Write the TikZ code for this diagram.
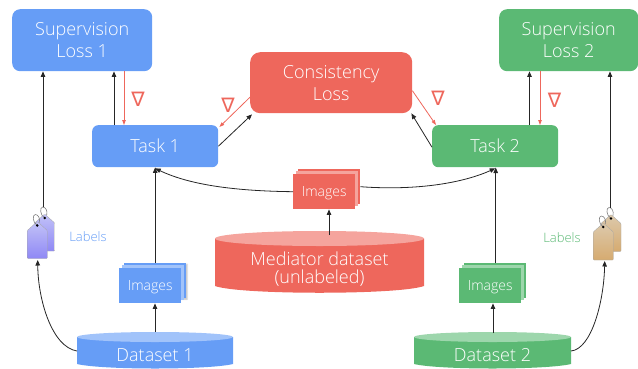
\documentclass[tikz,border=0pt]{standalone}
\usepackage{fontspec}
\setmainfont{Open Sans}
\newfontfamily\symfont{DejaVu Sans}
\newfontfamily\lightf{Open Sans Light}
\usetikzlibrary{arrows.meta,calc,shadows.blur}
\definecolor{gblue}{HTML}{669DF6}
\definecolor{gbluel}{HTML}{A1C3FA}
\definecolor{gred}{HTML}{EE675C}
\definecolor{gredl}{HTML}{F5A49D}
\definecolor{ggreen}{HTML}{5BB974}
\definecolor{ggreenl}{HTML}{9DD6AC}
\definecolor{taga}{HTML}{C2C2F7}
\definecolor{tagb}{HTML}{8F88F5}
\definecolor{tagc}{HTML}{DCC9AC}
\definecolor{tagd}{HTML}{D6AB70}
\tikzset{
  x=1pt,y=-1pt,
  box/.style={rounded corners=#1,text=white,align=center,font=\fontsize{18}{22}\selectfont\lightf,inner sep=0pt,anchor=north west},
  box/.default=8pt,
  imgfront/.style={text=white,inner sep=0pt,anchor=north west,minimum width=62pt,minimum height=35pt,text depth=-1pt,font=\fontsize{14}{16}\selectfont\lightf},
  imgback/.style={inner sep=0pt,anchor=north west,minimum width=62pt,minimum height=35pt},
  cyl/.style={text=white,inner sep=0pt,align=center,anchor=center},
  arr/.style={-{Triangle[width=4.5pt,length=5.5pt]},line width=0.8pt,black!85},
  grad/.style={-{Triangle[width=3.5pt,length=5pt]},line width=0.8pt,gred},
  nabla/.style={text=gred,inner sep=0pt,font=\symfont\fontsize{20}{20}\selectfont},
  lab/.style={inner sep=0pt,font=\fontsize{13}{15}\selectfont\lightf},
}
% tag: #1 hole position, #2 top colour, #3 bottom colour
\newcommand{\tagshape}[3]{%
  \begin{scope}[shift={#1}]
    \path[top color=#2,bottom color=#3,draw=black!35,line width=0.3pt,rounded corners=0.8pt]
      (0,-4) -- (10,5) -- (10,33) -- (-10,33) -- (-10,5) -- cycle;
    \draw[black!50,line width=0.6pt] (0,0) .. controls (-5,-3) and (-5,-11) .. (-2,-11) .. controls (1,-11) and (3,-7) .. (2,-3);
    \fill[black] (0,0) circle (1.4pt);
  \end{scope}}
\newcommand{\cylshape}[7]{%
  \fill[#6] (#1,#3) -- (#1,#4) .. controls (#1+25,#4+#5*1.2) and (#2-25,#4+#5*1.2) .. (#2,#4) -- (#2,#3) -- cycle;
  \fill[#7] ({(#1+#2)/2},#3) ellipse [x radius={(#2-#1)/2},y radius=#5];}
\begin{document}
\begin{tikzpicture}
\useasboundingbox (0,0) rectangle (638,368);
% boxes
\node[box,fill=gblue,minimum width=140pt,minimum height=62pt] (sup1) at (12,9) {Supervision\\Loss 1};
\node[box,fill=ggreen,minimum width=139pt,minimum height=62pt] (sup2) at (499,9) {Supervision\\Loss 2};
\node[box=10pt,fill=gred,minimum width=162pt,minimum height=61pt] (cons) at (250,52) {Consistency\\Loss};
\node[box=6pt,fill=gblue,minimum width=126pt,minimum height=42pt] (task1) at (92,125) {Task 1};
\node[box=6pt,fill=ggreen,minimum width=126pt,minimum height=42pt] (task2) at (432,125) {Task 2};
% cylinders
\cylshape{77}{233}{337}{364}{5}{gblue}{gbluel}
\cylshape{414}{571}{337}{364}{5}{ggreen}{ggreenl}
\cylshape{215}{424}{238.5}{286}{7.5}{gred}{gredl}
\node[cyl,font=\fontsize{18}{20}\selectfont\lightf] (ds1) at (155,355) {Dataset 1};
\node[cyl,font=\fontsize{18}{20}\selectfont\lightf] (ds2) at (492.5,355) {Dataset 2};
\node[cyl,font=\fontsize{18}{18}\selectfont\lightf] (med) at (319.5,269) {Mediator dataset\\(unlabeled)};
\coordinate (ds1top) at (155,332);
\coordinate (ds2top) at (493,333);
\coordinate (medtop) at (329,235);
\coordinate (ds1left) at (77,351);
\coordinate (ds2right) at (571,351);
% image stacks
\node[imgback,fill=gblue,blur shadow={shadow xshift=1pt,shadow yshift=-1pt,shadow blur steps=4,shadow blur radius=1.2pt,shadow opacity=25}] (back1) at (124,263) {};
\node[imgback,fill=gbluel] (mid1) at (122,265) {};
\node[imgback,fill=gred] (backm) at (298,169) {};
\node[imgback,fill=gredl] (midm) at (296,171) {};
\node[imgback,fill=ggreen] (back2) at (464,263) {};
\node[imgback,fill=ggreenl] (mid2) at (462,265) {};
\node[imgfront,fill=gblue] (img1) at (119,268) {Images\hspace{2pt}};
\node[imgfront,fill=gred] (imgm) at (293,174) {Images\hspace{2pt}};
\node[imgfront,fill=ggreen] (img2) at (459,268) {Images\hspace{2pt}};
% tags
\tagshape{(44.7,218)}{taga}{tagb}
\tagshape{(37.3,225.5)}{taga}{tagb}
\tagshape{(611,218.5)}{tagc}{tagd}
\tagshape{(603.3,227)}{tagc}{tagd}
\coordinate (tag1top) at (43,207);
\coordinate (tag1bot) at (37.7,260);
\coordinate (tag2top) at (610,208);
\coordinate (tag2bot) at (604.7,261);
% labels
\node[lab,text=gblue] (lab1) at (88,237) {Labels};
\node[lab,text=ggreen] (lab2) at (562,238) {Labels};
% nabla marks
\node[nabla] (n1) at (138,99.5) {∇};
\node[nabla] (n2) at (228,105.5) {∇};
\node[nabla] (n3) at (438,98) {∇};
\node[nabla] (n4) at (554.5,100) {∇};
% connectors
\draw[arr] (tag1top) -- (tag1top |- sup1.south);
\draw[arr] (task1.north -| 114,0) -- (114,0 |- sup1.south);
\draw[grad] (124,0 |- sup1.south) -- (task1.north -| 124,0);
\draw[grad] ($(cons.west)+(0,14.5)$) -- ($(task1.north east)+(1,2)$);
\draw[arr] (task1.east) -- ($(cons.south west)+(2,1)$);
\draw[grad] ($(cons.east)+(0,8)$) -- ($(task2.north west)+(4,0)$);
\draw[arr] ($(task2.west)+(0,1)$) -- ($(cons.south east)+(-1,0)$);
\draw[arr] (529.5,0 |- task2.north) -- (529.5,0 |- sup2.south);
\draw[grad] (540,0 |- sup2.south) -- (540,0 |- task2.north);
\draw[arr] (tag2top) -- (tag2top |- sup2.south);
\draw[arr] (back1.north -| task1.south) -- (task1.south);
\draw[arr] (back2.north -| 495.7,0) -- (495.7,167.5);
\draw[arr] (imgm.west) .. controls (235,191) and (190,185) .. ($(task1.south)+(0,1)$);
\draw[arr] (backm.east) .. controls (420,191) and (465,182) .. ($(task2.south)+(0,1)$);
\draw[arr] (ds1top) -- (img1.south -| ds1top);
\draw[arr] (medtop) -- (imgm.south -| medtop);
\draw[arr] (ds2top) -- (img2.south -| ds2top);
\draw[arr] (ds1left) .. controls (52,347) and (38,300) .. (tag1bot);
\draw[arr] (ds2right) .. controls (592,349) and (604,300) .. (tag2bot);
\end{tikzpicture}
\end{document}
